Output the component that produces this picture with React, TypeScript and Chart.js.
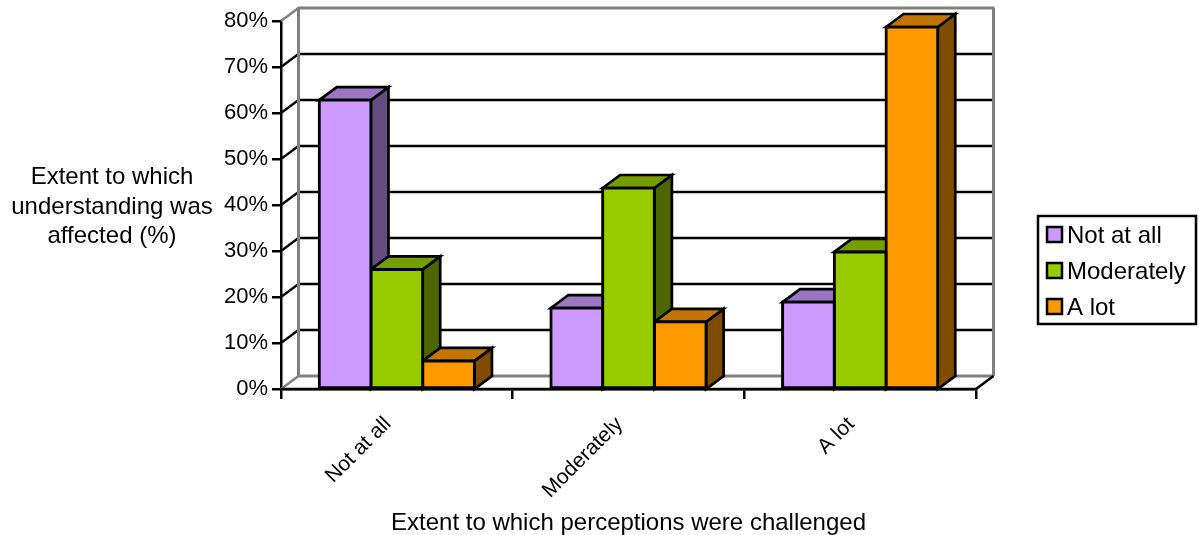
import React, { useEffect, useRef } from "react";
import { Chart, registerables } from "chart.js";

Chart.register(...registerables);

const categories = ["Not at all", "Moderately", "A lot"];
const seriesNotAtAll = [62.8, 17.6, 18.9];
const seriesModerately = [26, 43.7, 29.8];
const seriesALot = [6.1, 14.6, 78.7];
const yTicks = [0, 10, 20, 30, 40, 50, 60, 70, 80];
const yTitleLines = ["Extent to which", "understanding was", "affected (%)"];
const xTitle = "Extent to which perceptions were challenged";

const FONT = "'Liberation Sans', Arial, sans-serif";
const DEPTH_X = 17.5;
const DEPTH_Y = -13;

const faces = [
  { front: "#CC99FF", top: "#9C75C3", side: "#664D80" },
  { front: "#99CC00", top: "#769D00", side: "#4D6600" },
  { front: "#FF9900", top: "#C47500", side: "#804D00" },
];

function line(ctx: CanvasRenderingContext2D, x0: number, y0: number, x1: number, y1: number, color: string, width: number) {
  ctx.strokeStyle = color;
  ctx.lineWidth = width;
  ctx.beginPath();
  ctx.moveTo(x0, y0);
  ctx.lineTo(x1, y1);
  ctx.stroke();
}

function poly(ctx: CanvasRenderingContext2D, pts: number[][], fill: string) {
  ctx.fillStyle = fill;
  ctx.strokeStyle = "#000";
  ctx.lineWidth = 2.7;
  ctx.lineJoin = "miter";
  ctx.beginPath();
  pts.forEach(([x, y], i) => (i ? ctx.lineTo(x, y) : ctx.moveTo(x, y)));
  ctx.closePath();
  ctx.fill();
  ctx.stroke();
}

// Back wall, side wall and floor of the box behind the bars.
const wallsPlugin = {
  id: "walls",
  beforeDatasetsDraw(chart: any) {
    const { ctx, chartArea: a, scales } = chart;
    const y = scales.y;
    ctx.save();
    yTicks.forEach((v) => {
      const py = y.getPixelForValue(v);
      const inner = v > 0 && v < 80;
      if (inner) {
        line(ctx, a.left, py, a.left + DEPTH_X, py + DEPTH_Y, "#000", 2.3);
        line(ctx, a.left + DEPTH_X, py + DEPTH_Y, a.right + DEPTH_X, py + DEPTH_Y, "#000", 2.3);
      }
    });
    const wl = a.left + DEPTH_X;
    const wr = a.right + DEPTH_X;
    const wt = a.top + DEPTH_Y;
    const wb = a.bottom + DEPTH_Y;
    line(ctx, a.left, a.top, wl, wt, "#808080", 2.5);
    line(ctx, a.left, a.bottom, wl, wb, "#808080", 2.5);
    line(ctx, wl, wb, wr, wb, "#808080", 3);
    line(ctx, wl, wt - 1, wl, wb, "#808080", 3);
    line(ctx, wl, wt, wr + 1, wt, "#808080", 3);
    line(ctx, wr, wt, wr, wb, "#808080", 3);
    line(ctx, a.right, a.bottom, wr, wb, "#000", 2.5);
    line(ctx, a.left, a.bottom, a.right, a.bottom, "#000", 2.5);
    ctx.restore();
  },
};

// Top and side faces of each bar, extruded from the bar elements.
const depthPlugin = {
  id: "depth",
  beforeDatasetsDraw(chart: any) {
    const { ctx, chartArea } = chart;
    ctx.save();
    categories.forEach((_, c) => {
      chart.data.datasets.forEach((_d: any, s: number) => {
        const bar = chart.getDatasetMeta(s).data[c];
        const { x, y, width } = bar.getProps(["x", "y", "width"], true);
        const l = x - width / 2;
        const r = x + width / 2;
        const b = chartArea.bottom;
        poly(ctx, [[r, y], [r + DEPTH_X, y + DEPTH_Y], [r + DEPTH_X, b + DEPTH_Y], [r, b]], faces[s].side);
        poly(ctx, [[l, y], [l + DEPTH_X, y + DEPTH_Y], [r + DEPTH_X, y + DEPTH_Y], [r, y]], faces[s].top);
      });
    });
    ctx.restore();
  },
};

// Horizontal value-axis title and the framed legend at the right.
const annotationsPlugin = {
  id: "annotations",
  afterDraw(chart: any) {
    const { ctx } = chart;
    ctx.save();
    ctx.fillStyle = "#000";
    ctx.font = `24px ${FONT}`;
    ctx.textAlign = "center";
    ctx.textBaseline = "middle";
    yTitleLines.forEach((t, i) => ctx.fillText(t, 112, 177.5 + i * 29.5));

    ctx.fillStyle = "#fff";
    ctx.strokeStyle = "#000";
    ctx.lineWidth = 2.5;
    ctx.fillRect(1038, 216, 158, 108);
    ctx.strokeRect(1038, 216, 158, 108);
    ctx.textAlign = "left";
    chart.data.datasets.forEach((d: any, i: number) => {
      const cy = 235 + i * 36;
      ctx.fillStyle = faces[i].front;
      ctx.fillRect(1047, cy - 8, 15, 15);
      ctx.strokeRect(1047, cy - 8, 15, 15);
      ctx.fillStyle = "#000";
      ctx.fillText(d.label, 1067, cy + 1);
    });
    ctx.restore();
  },
};

export default function App() {
  const ref = useRef<HTMLCanvasElement>(null);
  useEffect(() => {
    const chart = new Chart(ref.current!, {
      type: "bar",
      data: {
        labels: categories,
        datasets: [seriesNotAtAll, seriesModerately, seriesALot].map((data, i) => ({
          label: categories[i],
          data,
          backgroundColor: faces[i].front,
          borderColor: "#000",
          borderWidth: 3,
          borderSkipped: false,
          inflateAmount: 1.5,
          categoryPercentage: 0.67,
          barPercentage: 1,
        })),
      },
      options: {
        responsive: false,
        animation: false,
        layout: { padding: { top: 21, right: 223, left: 0, bottom: 0 } },
        plugins: { legend: { display: false }, tooltip: { enabled: false }, title: { display: false } },
        scales: {
          x: {
            afterFit: (s: any) => { s.height = 146; },
            grid: { drawOnChartArea: false, color: "#000", lineWidth: 2.5, tickLength: 10, tickWidth: 2.5, tickColor: "#000" },
            border: { color: "#000", width: 2.5 },
            ticks: { color: "#000", font: { family: FONT, size: 21 }, maxRotation: 45, minRotation: 45, padding: 13, labelOffset: -9, autoSkip: false },
            title: { display: true, text: xTitle, color: "#000", font: { family: FONT, size: 24 }, padding: { top: 0, bottom: -3 } },
          },
          y: {
            min: 0,
            max: 80,
            afterFit: (s: any) => { s.width = 281; },
            afterBuildTicks: (s: any) => { s.ticks = yTicks.map((value) => ({ value })); },
            grid: { drawOnChartArea: false, color: "#000", lineWidth: 2.5, tickLength: 9, tickWidth: 2.5, tickColor: "#000" },
            border: { color: "#000", width: 2.5 },
            ticks: { color: "#000", font: { family: FONT, size: 22 }, padding: 4, callback: (v: any) => `${v}%` },
          },
        },
      },
      plugins: [wallsPlugin, depthPlugin, annotationsPlugin],
    } as any);
    return () => chart.destroy();
  }, []);
  return (
    <canvas
      ref={ref}
      width={1199}
      height={535}
      style={{ position: "fixed", left: 0, top: 0, display: "block", background: "#fff" }}
    />
  );
}
